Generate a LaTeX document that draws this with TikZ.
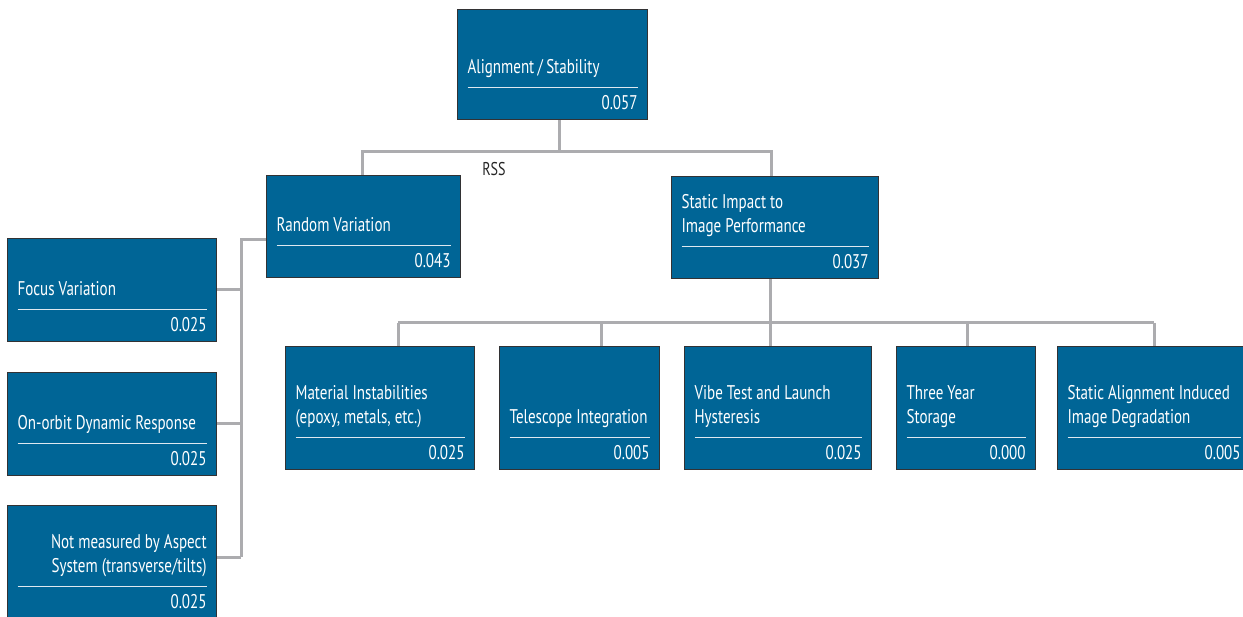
\documentclass[tikz,border=0pt]{standalone}
\usepackage{fontspec}
\setmainfont[FakeStretch=0.76]{PT Sans}
\usepackage{tikz}
\usetikzlibrary{
    positioning,
    calc
}
\definecolor{boxblue}{RGB}{0,101,150}
\definecolor{boxedge}{RGB}{50,50,52}
\definecolor{wiregray}{RGB}{172,172,175}
\definecolor{rulewhite}{RGB}{222,232,240}
% text of a block: [align]{text width}{height}{title}{value}
\newcommand{\blktext}[5][\raggedright]{%
    \parbox[b][#3pt][b]{#2pt}{#1\baselineskip=24pt #4\par
        \vskip-\prevdepth\kern13pt
        {\color{rulewhite}\hrule height 1.5pt}%
        \hbox to\hsize{\hfill\smash{#5}\vrule height 21.5pt width 0pt}%
        \kern10pt}}
\tikzset{
    blk/.style={
        draw=boxedge,
        fill=boxblue,
        line width=1.2pt,
        text=white,
        inner xsep=10pt,
        inner ysep=0pt,
        anchor=north west,
        font=\fontsize{19.8}{24}\selectfont
    },
    wire/.style={
        draw=wiregray,
        line width=3pt
    },
    rss/.style={
        text={black!85},
        inner sep=0pt,
        font=\fontsize{18.5}{22}\selectfont
    }
}

\begin{document}
\begin{tikzpicture}[
    x=1pt,
    y=-1pt
]

    \useasboundingbox (0,0) rectangle (1243,617);
    \clip (0,0) rectangle (1243,617);

    % Bloques
    \node[blk] (align) at (457,9)   {\blktext{170}{110}{Alignment\,/\,Stability}{0.057}};
    \node[blk] (rnd)   at (266,175) {\blktext{174}{102}{Random Variation}{0.043}};
    \node[blk] (imp)   at (671,176) {\blktext{187}{102}{Static Impact to\\Image Performance}{0.037}};

    \node[blk] (foc) at (7,238) {\blktext{189}{103}{Focus Variation}{0.025}};
    \node[blk] (orb) at (7,372) {\blktext{189}{103}{On-orbit Dynamic Response}{0.025}};
    \node[blk] (nms) at (7,505) {\blktext[\raggedleft]{189}{113}{Not measured by Aspect\\System (transverse/tilts)}{0.025}};

    \node[blk] (mat) at (285,346)  {\blktext{169}{123}{Material Instabilities\\(epoxy, metals, etc.)}{0.025}};
    \node[blk] (tel) at (499,346)  {\blktext{140}{123}{\mbox{Telescope Integration}}{0.005}};
    \node[blk] (vib) at (684,346)  {\blktext{167}{123}{Vibe Test and Launch\\Hysteresis}{0.025}};
    \node[blk] (thr) at (896,346)  {\blktext{119}{123}{Three Year\\Storage}{0.000}};
    \node[blk] (sai) at (1057,346) {\blktext{173}{123}{Static Alignment Induced\\Image Degradation}{0.005}};

    \node[rss] (rsslabel) at (494,169) {RSS};

    % Conexiones
    \coordinate (t0) at (559,152);
    \coordinate (tl) at (362,152);
    \coordinate (tr) at (771,152);
    \draw[wire] (t0 |- align.south) -- (t0);
    \draw[wire] (tl |- rnd.north) -- (tl) -- (tr) -- (tr |- imp.north);

    % Rama izquierda
    \coordinate (l0) at (241,240);
    \coordinate (l1) at (241,290);
    \coordinate (l2) at (241,424);
    \coordinate (l3) at (241,557);
    \draw[wire] (rnd.west |- l0) -- (l0) -- (l3);
    \foreach \c/\n in {l1/foc, l2/orb, l3/nms}
        \draw[wire] (\c) -- (\n.east |- \c);

    % Rama inferior
    \coordinate (b0) at (770,323);
    \coordinate (d1) at (398,323);
    \coordinate (d2) at (601,323);
    \coordinate (d3) at (770,323);
    \coordinate (d4) at (967,323);
    \coordinate (d5) at (1154,323);
    \draw[wire] (b0 |- imp.south) -- (b0);
    \draw[wire] (d1) -- (d5);
    \foreach \c/\n in {d1/mat, d2/tel, d3/vib, d4/thr, d5/sai}
        \draw[wire] (\c) -- (\c |- \n.north);

\end{tikzpicture}
\end{document}
